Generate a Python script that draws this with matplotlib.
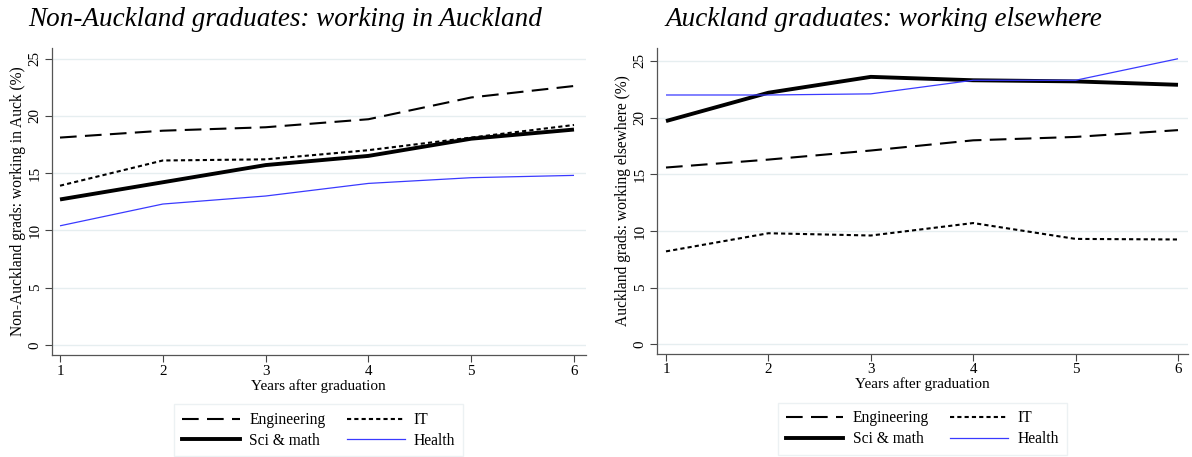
import matplotlib
matplotlib.use("Agg")
import matplotlib.pyplot as plt
from matplotlib.lines import Line2D

years = [1, 2, 3, 4, 5, 6]
yticks = [0, 5, 10, 15, 20, 25]

# Left panel: Non-Auckland graduates working in Auckland (%)
left_eng = [18.1, 18.7, 19.0, 19.7, 21.6, 22.6]
left_it = [13.9, 16.1, 16.2, 17.0, 18.1, 19.2]
left_sci = [12.7, 14.2, 15.7, 16.5, 18.0, 18.8]
left_health = [10.4, 12.3, 13.0, 14.1, 14.6, 14.8]

# Right panel: Auckland graduates working elsewhere (%)
right_eng = [15.6, 16.3, 17.1, 18.0, 18.3, 18.9]
right_it = [8.2, 9.8, 9.6, 10.7, 9.3, 9.25]
right_sci = [19.7, 22.2, 23.6, 23.3, 23.2, 22.9]
right_health = [22.0, 22.0, 22.1, 23.3, 23.3, 25.2]

titles = ["Non-Auckland graduates: working in Auckland",
          "Auckland graduates: working elsewhere"]
ylabels = ["Non-Auckland grads: working in Auck (%)",
           "Auckland grads: working elsewhere (%)"]
xlabel = "Years after graduation"
series_names = ["Engineering", "IT", "Sci & math", "Health"]

plt.rcParams['font.family'] = ['Liberation Serif', 'DejaVu Serif']

W, H = 1192, 457
fig = plt.figure(figsize=(W / 100, H / 100), dpi=100)

def px_axes(x0, x1, ytop, ybot):
    return [x0 / W, 1 - ybot / H, (x1 - x0) / W, (ybot - ytop) / H]

styles = {
    "Engineering": dict(color="black", lw=1.5, linestyle=(0, (8, 4))),
    "IT": dict(color="black", lw=1.5, linestyle=(0, (2, 1.5))),
    "Sci & math": dict(color="black", lw=2.8, linestyle="-"),
    "Health": dict(color="#3a3aff", lw=0.9, linestyle="-"),
}

panels = [
    (px_axes(51.5, 586, 48, 355), [left_eng, left_it, left_sci, left_health], (60, 574), 345),
    (px_axes(656.5, 1188, 48, 353.5), [right_eng, right_it, right_sci, right_health], (666, 1178), 344.3),
]

title_x = [28, 665]

for i, (rect, data, (px1, px6), py0) in enumerate(panels):
    ax = fig.add_axes(rect)
    for name, vals in zip(series_names, data):
        ax.plot(years, vals, label=name, **styles[name], solid_capstyle='butt')
    x0p = rect[0] * W
    x1p = (rect[0] + rect[2]) * W
    ppu = (px6 - px1) / 5
    ax.set_xlim(1 - (px1 - x0p) / ppu, 6 + (x1p - px6) / ppu)
    ybot = (1 - rect[1]) * H
    ytop = ybot - rect[3] * H
    ppy = (py0 - 58.5) / 25 if i == 0 else (py0 - 61) / 25
    ax.set_ylim(-(ybot - py0) / ppy, (py0 - ytop) / ppy)
    ax.set_xticks(years)
    ax.set_yticks(yticks)
    ax.set_yticklabels([str(v) for v in yticks], rotation=90, va='center')
    ax.tick_params(axis='both', labelsize=10.8, color='#444444', length=5, width=0.8, direction='out')
    ax.tick_params(axis='y', pad=2)
    ax.tick_params(axis='x', pad=2)
    ax.grid(axis='y', color='#e6eef0', lw=1.0)
    ax.set_axisbelow(True)
    for s in ['top', 'right']:
        ax.spines[s].set_visible(False)
    for s in ['left', 'bottom']:
        ax.spines[s].set_color('#555555')
        ax.spines[s].set_linewidth(0.9)
    ax.set_xlabel(xlabel, fontsize=11, labelpad=1)
    ax.set_ylabel(ylabels[i], fontsize=11.2, labelpad=2)
    handles = [Line2D([0], [0], **styles[n]) for n in series_names]
    order = [0, 2, 1, 3]
    leg = ax.legend([handles[k] for k in order], [series_names[k] for k in order],
                    ncol=2, loc='upper center', bbox_to_anchor=(0.5, -0.135),
                    frameon=True, fancybox=False, fontsize=11.2, handlelength=3.7,
                    columnspacing=1.4, handletextpad=0.6, labelspacing=0.3,
                    borderpad=0.5)
    leg.get_frame().set_edgecolor('#e8eef0')
    leg.get_frame().set_linewidth(1.0)
    fig.text(title_x[i] / W, 1 - 20 / H, titles[i], fontsize=19.5, style='italic',
             va='center', ha='left')

fig.savefig("out.png", dpi=100)
